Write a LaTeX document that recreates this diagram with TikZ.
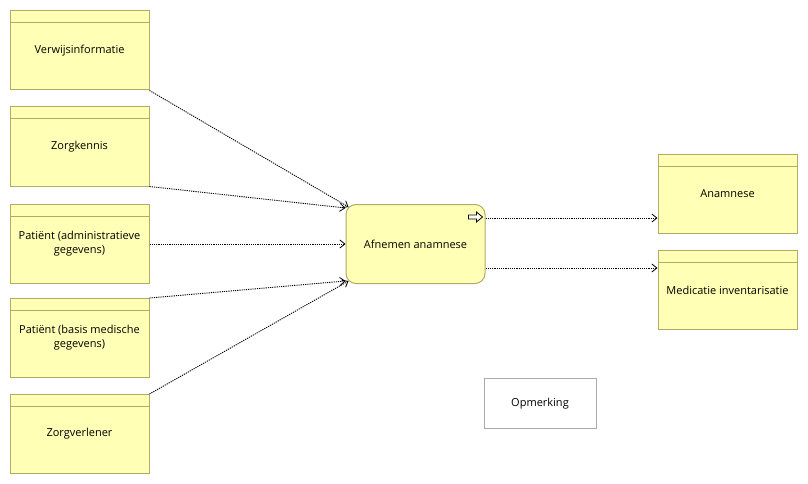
\documentclass[tikz,border=0pt]{standalone}
\usepackage{fontspec}
\setmainfont{Open Sans}
\usetikzlibrary{arrows.meta}
\definecolor{objfill}{RGB}{255,255,181}
\definecolor{objdraw}{RGB}{176,170,102}
\definecolor{notedraw}{RGB}{170,170,170}
\tikzset{
  bizobj/.style={draw=objdraw,fill=objfill,line width=1pt,
    minimum width=139pt,minimum height=79pt,inner sep=2pt,
    align=center,font=\fontsize{11}{14}\selectfont},
  bizproc/.style={bizobj,rounded corners=10pt},
  bizjot/.style={draw=notedraw,line width=1pt,fill=white,
    minimum width=112pt,minimum height=50pt,
    font=\fontsize{11}{14}\selectfont},
  flowline/.style={line width=0.9pt,dash pattern=on 1.2pt off 1pt,
    -{Straight Barb[length=5pt,width=8pt,line width=0.8pt]}}
}

\begin{document}
\begin{tikzpicture}[x=1pt,y=-1pt]
  \useasboundingbox (0,0) rectangle (808,484);
  % inputs
  \node[bizobj] (verwijs) at (79.5,50.5) {Verwijsinformatie};
  \node[bizobj] (zorgkennis) at (79.5,146.5) {Zorgkennis};
  \node[bizobj] (patadmin) at (79.5,244) {Patiënt (administratieve\\gegevens)};
  \node[bizobj] (patbasis) at (79.5,338) {Patiënt (basis medische\\gegevens)};
  \node[bizobj] (zorgverl) at (79.5,434) {Zorgverlener};
  % process
  \node[bizproc] (afnemen) at (415.5,244) {Afnemen anamnese};
  % outputs
  \node[bizobj] (anamnese) at (727.5,194) {Anamnese};
  \node[bizobj] (medicatie) at (727.5,290) {Medicatie inventarisatie};
  \node[bizjot] (opmerking) at (540,403.5) {Opmerking};
  % header bands
  \foreach \obj in {verwijs,zorgkennis,patadmin,patbasis,zorgverl,anamnese,medicatie}
    \draw[objdraw,line width=1pt] ([yshift=-12pt]\obj.north west) -- ([yshift=-12pt]\obj.north east);
  % process icon
  \draw[line width=0.8pt,fill=white,shift={(afnemen.north east)}]
    (-17,11) -- (-9,11) -- (-9,8) -- (-3,13) -- (-9,18) -- (-9,15) -- (-17,15) -- cycle;
  % flows
  \draw[flowline] (verwijs.south east) -- ([shift={(3,3)}]afnemen.north west);
  \draw[flowline] (zorgkennis.south east) -- ([yshift=-4pt]afnemen.north west);
  \draw[flowline] (patadmin.east) -- (afnemen.west);
  \draw[flowline] (patbasis.north east) -- ([yshift=3pt]afnemen.south west);
  \draw[flowline] (zorgverl.north east) -- ([shift={(3,-3)}]afnemen.south west);
  \coordinate (out1) at ([yshift=-14pt]afnemen.north east);
  \coordinate (out2) at ([yshift=16pt]afnemen.south east);
  \draw[flowline] (out1) -- (out1 -| anamnese.west);
  \draw[flowline] (out2) -- (out2 -| medicatie.west);
\end{tikzpicture}
\end{document}
